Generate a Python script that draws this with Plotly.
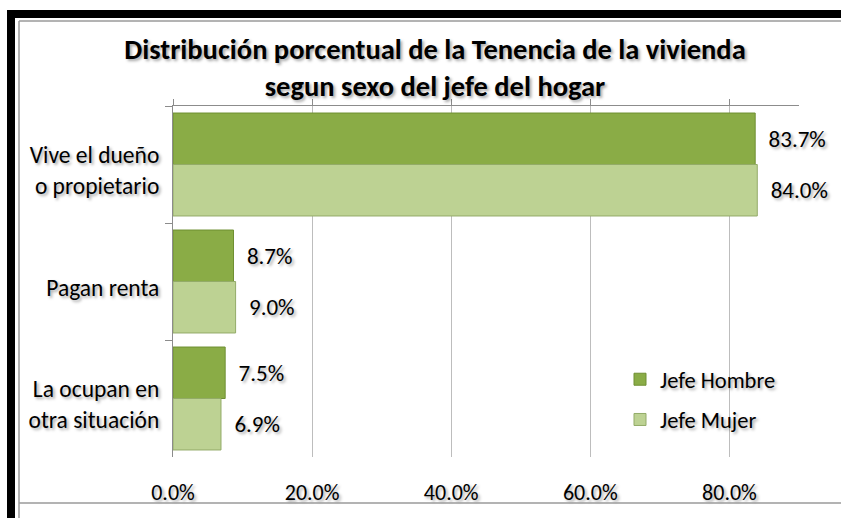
import plotly.graph_objects as go

categories = ["Vive el dueño<br>o propietario", "Pagan renta", "La ocupan en<br>otra situación"]
hombre = [83.7, 8.7, 7.5]
mujer = [84.0, 9.0, 6.9]
series_names = ["Jefe Hombre", "Jefe Mujer"]
tick_vals = [0, 20, 40, 60, 80]
tick_text = ["0.0%", "20.0%", "40.0%", "60.0%", "80.0%"]

FONT = "Carlito, Lato, Liberation Sans, sans-serif"
SHADOW = "2px 2px 3px rgba(0,0,0,0.35)"

fig = go.Figure()
fig.add_trace(go.Bar(
    y=categories, x=hombre, orientation="h", name=series_names[0],
    marker=dict(color="#8aac46", line=dict(color="#6f8f32", width=1)),
    text=[f"{v:.1f}%" for v in hombre], textposition="outside",
    texttemplate="  %{text}", cliponaxis=False,
    textfont=dict(family=FONT, size=23, color="black", shadow=SHADOW),
    legendgroup="a",
))
fig.add_trace(go.Bar(
    y=categories, x=mujer, orientation="h", name=series_names[1],
    marker=dict(color="#bdd293", line=dict(color="#93ab68", width=1)),
    text=[f"{v:.1f}%" for v in mujer], textposition="outside",
    texttemplate="  %{text}", cliponaxis=False,
    textfont=dict(family=FONT, size=23, color="black", shadow=SHADOW),
    legendgroup="b",
))

# top axis line (value axis crossing at the top)
fig.add_trace(go.Scatter(x=[None], y=[None], xaxis="x2", showlegend=False))

W, H = 841, 518
L, R, T, B = 173, 42, 106, 50
pw, ph = W - L - R, H - T - B
def px(x):
    return (x - L) / pw
def py(y):
    return (H - B - y) / ph

def frame_rect(x0, x1, y0, y1, anchor_top=True, **kw):
    # pixel offsets relative to plot-area left edge and top (or bottom) edge
    ya = 1 if anchor_top else 0
    base = T if anchor_top else (H - B)
    return dict(type="rect", xref="paper", yref="paper",
                xsizemode="pixel", xanchor=0, ysizemode="pixel", yanchor=ya,
                x0=x0 - L, x1=x1 - L, y0=base - y0, y1=base - y1, **kw)

shapes = [
    frame_rect(7, 15, 10, 700, fillcolor="black", line=dict(width=0), layer="above"),
    frame_rect(7, 1200, 10, 18, fillcolor="black", line=dict(width=0), layer="above"),
    frame_rect(19, 1200, 21, 21, line=dict(color="#9a9a9a", width=1.5)),
    frame_rect(19, 19, 21, 700, line=dict(color="#9a9a9a", width=1.5)),
    frame_rect(19, 1200, 514, 514, anchor_top=False, line=dict(color="#9a9a9a", width=1.5)),
]

fig.update_layout(
    autosize=True,
    margin=dict(l=L, r=R, t=T, b=B),
    paper_bgcolor="white", plot_bgcolor="white",
    barmode="group", bargap=0.12, bargroupgap=0.0,
    title=dict(text="Distribución porcentual de la Tenencia de la vivienda<br>segun sexo del jefe del hogar",
               xref="paper", x=px(435), xanchor="center", y=1 - 59 / H, yanchor="middle",
               font=dict(family=FONT, size=28.5, color="black", weight="bold", shadow=SHADOW)),
    xaxis=dict(range=[0, 90], tickvals=tick_vals, ticktext=tick_text,
               showgrid=True, gridcolor="#bdbdbd", gridwidth=1, zeroline=False,
               showline=False, ticks="", ticklabelstandoff=20,
               tickfont=dict(family=FONT, size=22, color="black", shadow=SHADOW)),
    xaxis2=dict(range=[0, 90], overlaying="x", side="top", tickvals=tick_vals,
                showticklabels=False, showgrid=False, zeroline=False,
                showline=True, linecolor="#8c8c8c", linewidth=1,
                ticks="outside", ticklen=6, tickcolor="#8c8c8c"),
    yaxis=dict(autorange="reversed", showline=True, linecolor="#8c8c8c", linewidth=1,
               ticks="outside", ticklen=7, tickcolor="#8c8c8c", tickson="boundaries",
               showgrid=False, ticklabelstandoff=8, ticklabelshift=-6,
               tickfont=dict(family=FONT, size=23.5, color="black", shadow=SHADOW)),
    legend=dict(x=px(620), y=py(366), xanchor="left", yanchor="top",
                bgcolor="rgba(0,0,0,0)", tracegroupgap=8, itemwidth=30,
                font=dict(family=FONT, size=22.5, color="black", shadow=SHADOW)),
    showlegend=True,
    shapes=shapes,
)

fig.write_html(
    "out.html",
    config={"displayModeBar": False, "responsive": True},
    default_width="100%", default_height="100%",
    post_script=(
        "var h=document.documentElement,b=document.body;"
        "h.style.margin='0';h.style.padding='0';h.style.height='100%';h.style.overflow='hidden';h.style.background='white';"
        "b.style.margin='0';b.style.padding='0';b.style.height='100%';b.style.overflow='hidden';"
        "var gd=document.getElementById('{plot_id}');gd.style.width='100vw';gd.style.height='100vh';"
        "Plotly.Plots.resize(gd);"
    ),
)
